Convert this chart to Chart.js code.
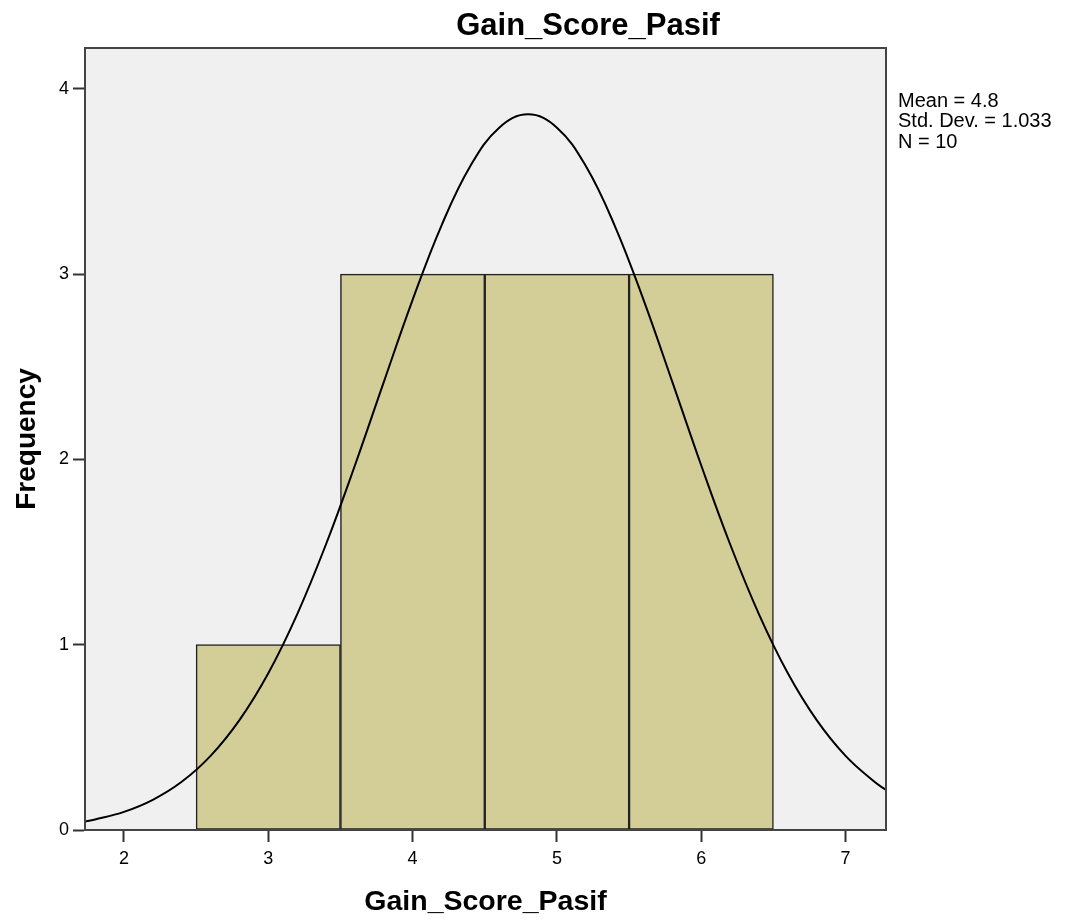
<!DOCTYPE html>
<html>
<head>
<meta charset="utf-8">
<title>Gain_Score_Pasif</title>
<script src="https://cdn.jsdelivr.net/npm/chart.js@4/dist/chart.umd.min.js"></script>
<style>
  html, body { margin: 0; padding: 0; background: #fff; }
  #wrap { width: 1070px; height: 921px; position: relative; }
</style>
</head>
<body>
<div id="wrap"><canvas id="histChart"></canvas></div>
<script>
// histogram bins (centre of each bin) and counts
const binCenters = [3, 4, 5, 6];
const frequencies = [1, 3, 3, 3];

// normal curve
const curveX = [1.72, 1.8, 2.0, 2.2, 2.4, 2.6, 2.8, 3.0, 3.2, 3.4, 3.6, 3.8, 4.0, 4.2, 4.4, 4.6, 4.8,
                5.0, 5.2, 5.4, 5.6, 5.8, 6.0, 6.2, 6.4, 6.6, 6.8, 7.0, 7.2, 7.28];
const curveY = [0.045, 0.057, 0.098, 0.163, 0.260, 0.400, 0.593, 0.846, 1.164, 1.542, 1.967, 2.417, 2.861, 3.262, 3.583, 3.790, 3.862,
                3.790, 3.583, 3.262, 2.861, 2.417, 1.967, 1.542, 1.164, 0.846, 0.593, 0.400, 0.260, 0.216];

// axis ticks
const xTicks = [2, 3, 4, 5, 6, 7];
const yTicks = [0, 1, 2, 3, 4];

const chartTitle = 'Gain_Score_Pasif';
const xTitle = 'Gain_Score_Pasif';
const yTitle = 'Frequency';
const statsLines = ['Mean = 4.8', 'Std. Dev. = 1.033', 'N = 10'];

const FONT = "'Liberation Sans', Arial, sans-serif";

const spssPlugin = {
    id: 'spss',
    beforeDatasetsDraw(chart) {
        const { ctx, chartArea: a } = chart;
        ctx.save();
        ctx.fillStyle = '#f0f0f0';
        ctx.fillRect(a.left, a.top, a.right - a.left, a.bottom - a.top);
        ctx.restore();
    },
    afterDraw(chart) {
        const { ctx, chartArea: a } = chart;
        ctx.save();
        // frame
        ctx.strokeStyle = '#444';
        ctx.lineWidth = 2;
        ctx.strokeRect(a.left, a.top, a.right - a.left, a.bottom - a.top);

        // title
        ctx.fillStyle = '#000';
        ctx.font = `bold 31px ${FONT}`;
        ctx.textAlign = 'center';
        ctx.textBaseline = 'alphabetic';
        ctx.fillText(chartTitle, 588, 35);

        // stats box
        ctx.font = `20px ${FONT}`;
        ctx.textAlign = 'left';
        statsLines.forEach((t, i) => ctx.fillText(t, 898, 106.5 + i * 20.5));
        ctx.restore();
    }
};

const ctx = document.getElementById('histChart').getContext('2d');
new Chart(ctx, {
    type: 'bar',
    data: {
        datasets: [{
            type: 'line',
            data: curveX.map((x, i) => ({ x, y: curveY[i] })),
            borderColor: '#000',
            borderWidth: 2,
            pointRadius: 0,
            tension: 0.4,
            fill: false,
            order: 0
        }, {
            type: 'bar',
            data: binCenters.map((x, i) => ({ x, y: frequencies[i] })),
            backgroundColor: '#d3ce98',
            borderColor: '#222',
            borderWidth: 1.5,
            borderSkipped: false,
            barPercentage: 1,
            categoryPercentage: 1,
            order: 1
        }]
    },
    options: {
        responsive: true,
        maintainAspectRatio: false,
        animation: false,
        layout: { padding: { top: 48, right: 184, left: 0, bottom: 0 } },
        plugins: {
            legend: { display: false },
            tooltip: { enabled: false }
        },
        scales: {
            x: {
                type: 'linear',
                min: 1.73,
                max: 7.28,
                offset: false,
                afterBuildTicks: s => { s.ticks = xTicks.map(v => ({ value: v })); },
                afterFit: s => { s.height = 91; },
                grid: {
                    offset: false,
                    drawOnChartArea: false,
                    drawTicks: true,
                    tickLength: 12,
                    tickWidth: 2,
                    color: '#333'
                },
                border: { display: true, color: '#333', width: 2 },
                ticks: {
                    font: { family: FONT, size: 18 },
                    color: '#000',
                    padding: 6,
                    maxRotation: 0
                },
                title: {
                    display: true,
                    text: xTitle,
                    font: { family: FONT, size: 28.5, weight: 'bold' },
                    color: '#000',
                    padding: { top: 0, bottom: 2 }
                }
            },
            y: {
                min: 0,
                max: 4.22,
                afterBuildTicks: s => { s.ticks = yTicks.map(v => ({ value: v })); },
                afterFit: s => { s.width = 85; },
                grid: {
                    drawOnChartArea: false,
                    drawTicks: true,
                    tickLength: 12,
                    tickWidth: 2,
                    color: '#333'
                },
                border: { display: true, color: '#333', width: 2 },
                ticks: {
                    font: { family: FONT, size: 18 },
                    color: '#000',
                    padding: 4
                },
                title: {
                    display: true,
                    text: yTitle,
                    font: { family: FONT, size: 28, weight: 'bold' },
                    color: '#000',
                    padding: { top: 10, bottom: 0 }
                }
            }
        }
    },
    plugins: [spssPlugin]
});
</script>
</body>
</html>
